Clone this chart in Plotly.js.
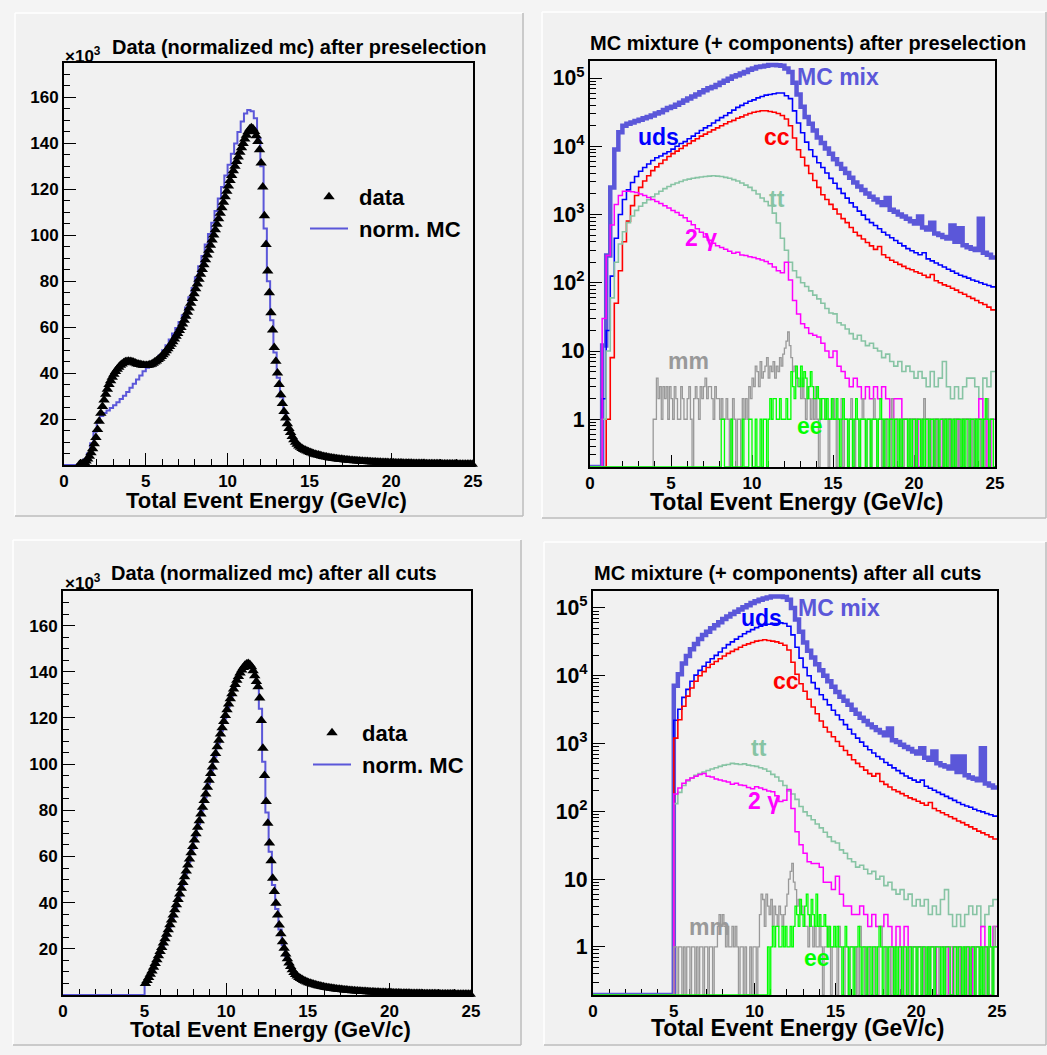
<!DOCTYPE html>
<html>
<head>
<meta charset="utf-8">
<script src="https://cdn.plot.ly/plotly-3.0.1.min.js"></script>
<style>
html,body{margin:0;padding:0;background:#f4f4f4;}
#chart{width:1047px;height:1055px;}
</style>
</head>
<body>
<div id="chart"></div>
<script>
// ---------------- tick labels ----------------
const xTickVals = [0, 5, 10, 15, 20, 25];
const xTickText = ['0', '5', '10', '15', '20', '25'];
const yLinTickVals = [20, 40, 60, 80, 100, 120, 140, 160];
const yLinTickText = ['20', '40', '60', '80', '100', '120', '140', '160'];

// ---------------- bin widths (GeV) ----------------
const dataBinWidth = 0.1;   // data points (triangles) and mm / ee histograms
const normBinWidth = 0.2;   // norm. MC histograms (linear panels)
const compBinWidth = 0.25;  // MC mix / uds / cc / tt / 2gamma (log panels)

// ============ Panel 1: data vs norm. MC after preselection (units of 10^3) ============
const dataPreK = [null,null,null,null,null,null,null,null,null,
0.2,0.4,0.7,1.1,1.7,2.6,3.8,5.3,7.1,9.3,12,
15.5,19,22.5,25.5,28.3,30.8,33,35,36.7,38.2,
39.5,40.7,41.7,42.6,43.4,44,44.5,44.9,45.1,45.2,
45.1,44.9,44.7,44.4,44.1,43.9,43.7,43.5,43.4,43.3,
43.3,43.4,43.6,43.9,44.3,44.8,45.3,45.9,46.5,47.2,
48,48.8,49.7,50.6,51.6,52.6,53.7,54.8,56,57.2,
58.5,59.9,61.4,63,64.7,66.5,68.4,70.4,72.5,74.6,
76.7,78.8,80.9,83,85.1,87.2,89.3,91.4,93.5,95.7,
97.9,100.1,102.4,104.8,107.2,109.6,112,114.4,116.8,119.2,
121.5,123.8,126,128.1,130.1,132.1,134.1,136.1,138.1,140,
141.9,143.6,145.1,146.3,146.8,146.4,145.2,143.3,140.8,137.2,
131.5,121,108.5,96,84.5,75,66.3,58.8,51.2,45.2,
40,35,30.6,26.8,23.3,20.5,18,15.9,14.1,12.4,
11,9.9,9,8.3,7.7,7.2,6.8,6.4,6.05,5.75,
5.45,5.2,4.95,4.72,4.5,4.3,4.1,3.92,3.75,3.6,
3.45,3.31,3.18,3.06,2.95,2.84,2.74,2.64,2.55,2.46,
2.38,2.3,2.22,2.15,2.08,2.01,1.95,1.89,1.83,1.77,
1.72,1.67,1.62,1.57,1.52,1.48,1.44,1.4,1.36,1.32,
1.28,1.24,1.2,1.17,1.14,1.11,1.08,1.05,1.02,0.99,
0.96,0.94,0.91,0.89,0.87,0.85,0.83,0.81,0.79,0.77,
0.75,0.73,0.72,0.7,0.68,0.67,0.65,0.64,0.62,0.61,
0.6,0.58,0.57,0.56,0.55,0.53,0.52,0.51,0.5,0.49,
0.48,0.47,0.46,0.45,0.44,0.43,0.42,0.41,0.4,0.39,
0.38,0.37,0.37,0.36,0.35,0.34,0.33,0.33,0.32,0.31];

const normMcPreK = [0,0,0,0,0.3, 1,2.5,5,9.5,14.5,
18.5,21.3,22.6,23.7,24.8, 26,27.3,28.7,30.2,31.8,
33.6,35.4,37.2,39,40.8, 42.3,43.6,44.5,46.1,47.8,
49.9,52.1,54.6,57.2,59.6, 62.2,65.2,68.6,73,77,
81.7,86.5,91,96,100.6, 105.5,110.6,116,121,126,
130.7,135.5,140,145,149.5, 153,154.5,154,151,142,
130,103,80,63,49, 38,29.5,22.5,17.5,13.8,
11,9.1,7.9,7,6.3, 5.6,5.1,4.6,4.2,3.85,
3.5,3.25,3,2.8,2.6, 2.4,2.25,2.1,1.95,1.82,
1.7,1.6,1.5,1.42,1.34, 1.27,1.2,1.13,1.07,1.01,
0.96,0.91,0.87,0.83,0.79, 0.75,0.72,0.69,0.66,0.63,
0.6,0.58,0.56,0.54,0.52, 0.5,0.48,0.46,0.44,0.42,
0.4,0.39,0.37,0.36,0.35];

// ============ Panel 3: data vs norm. MC after all cuts (units of 10^3) ============
const dataCutK = [null,null,null,null,null,null,null,null,null,null,
null,null,null,null,null,null,null,null,null,null,
null,null,null,null,null,null,null,null,null,null,
null,null,null,null,null,null,null,null,null,null,
null,null,null,null,null,null,null,null,null,null,
5,6.3,7.6,9,10.4,12,13.6,15.3,17,18.8,
20.6,22.5,24.4,26.3,28.3,30.4,32.5,34.7,36.9,39.1,
41.4,43.8,46.2,48.7,51.2,53.7,56.3,58.9,61.6,64.3,
67.1,69.9,72.7,75.5,78.4,81.3,84.2,87.1,90,93,
95.9,98.8,101.7,104.6,107.5,110.3,113.1,115.8,118.5,121.1,
123.6,126,128.3,130.5,132.6,134.5,136.3,138,139.5,140.8,
141.9,142.8,143.4,143.6,143.2,142.2,140.5,138.3,135.8,133.5,
128.6,118.9,106.9,95.1,83.8,74.4,65.8,58.1,50.6,44.8,
39.7,34.7,30.3,26.5,23.1,20.3,17.8,15.7,13.9,12.3,
10.9,9.8,8.9,8.2,7.6,7.1,6.7,6.3,5.95,5.65,
5.35,5.1,4.86,4.63,4.42,4.22,4.03,3.86,3.7,3.55,
3.41,3.28,3.15,3.03,2.92,2.82,2.72,2.62,2.53,2.44,
2.36,2.28,2.2,2.13,2.06,2,1.94,1.88,1.82,1.76,
1.71,1.66,1.61,1.56,1.51,1.47,1.43,1.39,1.35,1.31,
1.27,1.23,1.19,1.16,1.13,1.1,1.07,1.04,1.01,0.98,
0.95,0.93,0.9,0.88,0.86,0.84,0.82,0.8,0.78,0.76,
0.74,0.72,0.71,0.69,0.67,0.66,0.64,0.63,0.61,0.6,
0.59,0.57,0.56,0.55,0.54,0.52,0.51,0.5,0.49,0.48,
0.47,0.46,0.45,0.44,0.43,0.42,0.41,0.4,0.39,0.38,
0.37,0.36,0.36,0.35,0.34,0.33,0.32,0.32,0.31,0.3];

const normMcCutK = [0,0,0,0,0, 0,0,0,0,0, 0,0,0,0,0, 0,0,0,0,0, 0,0,0,0,0,
5.5,8.2,11.2,14.4,17.9, 21.6,25.4,29.4,33.6,38,
42.6,47.5,52.5,57.6,63, 68.5,74.1,79.9,85.7,91.5,
97.4,103.2,108.9,114.5,119.8, 124.8,129.4,133.6,137.2,140.2,
142.6,143.8,143,140,135, 124,101,79,62,47.7,
37.2,28.4,21.7,16.8,13.1, 10.4,8.6,7.5,6.7,6,
5.4,4.95,4.5,4.1,3.8, 3.45,3.2,2.95,2.75,2.55,
2.37,2.21,2.06,1.92,1.8, 1.68,1.58,1.48,1.4,1.32,
1.25,1.18,1.12,1.06,1, 0.95,0.9,0.86,0.82,0.78,
0.74,0.71,0.68,0.65,0.62, 0.6,0.57,0.55,0.53,0.51,
0.49,0.47,0.45,0.44,0.42, 0.4,0.39,0.37,0.36,0.35];

// ============ Panel 2: MC mixture + components after preselection (events / 0.1 GeV) ============
const mixPre = [0,0,0,12,250,2500,9000,16000,20000,21400,
22400,23400,24500,25700,26900,28200,30200,31600,33900,36300,
38000,40700,43600,46800,50100,53700,57500,61700,66100,70800,
74100,79400,85100,91200,97700,105000,110000,117000,123000,132000,
138000,145000,148000,151000,155000,155000,154000,151000,138000,123000,
85000,57500,38000,26900,21400,17000,13500,11200,9300,7760,
6460,5500,4680,4070,3470,2950,2570,2290,2040,1820,
1660,1510,1380,1740,1175,1100,1000,933,870,795,
741,933,646,603,760,525,500,468,447,690,
398,630,355,331,316,302,870,275,257,234];

const udsPre = [0,0,0,2,20,125,450,1000,1660,2300,
2950,3600,4300,4900,5500,6200,6800,7200,7800,8300,
9100,10000,11000,11700,12900,14100,15500,17000,18600,20000,
21900,24000,26300,28200,30900,33900,37200,39800,42700,45700,
47900,51300,53700,56200,57500,58900,60300,60300,55000,50000,
33000,21900,15800,11500,8900,7100,5750,4900,4070,3390,
2880,2400,2040,1740,1480,1290,1120,980,850,760,
690,620,550,500,457,417,380,347,316,295,
275,257,275,224,209,195,182,170,158,148,
138,129,123,117,110,105,100,95,91,87];

const ccPre = [0,0,0,0,1,8,50,150,400,800,
1350,1900,2500,3100,3700,4400,5000,5600,6300,7100,
7800,8500,9300,10200,11000,12000,12900,14100,15100,16200,
17400,18600,20000,21400,22900,24000,25700,27000,28800,30200,
31600,32400,33100,33100,32400,31600,30200,28200,25100,20000,
13200,8900,6900,5200,4000,3150,2500,1950,1660,1410,
1200,1020,870,760,645,550,490,437,390,347,
309,340,257,234,214,200,186,174,162,155,
145,138,129,120,132,107,100,93,89,83,
78,72,68,63,59,55,51,48,44,40];

const ttPre = [0,0,0,1,10,60,200,370,560,760,
950,1150,1320,1480,1650,1820,2000,2190,2400,2570,
2750,2900,3050,3200,3300,3400,3470,3550,3600,3650,
3700,3650,3600,3500,3400,3250,3100,2900,2700,2500,
2250,2000,1750,1550,1350,1050,750,450,300,200,
150,120,100,88,76,66,58,50,42,36,
35,26,24,21,18,15,17,14,12,13,
11,10,8,9,7,6,7,5,6,5,
4,5,4,3,5,3,4,7,3,2,
3,2,3,4,4,3,2,4,3,5];

const ggPre = [0,0,0,30,250,700,1400,1900,2200,2200,
2150,2100,2000,1900,1780,1660,1550,1450,1350,1250,
1150,1070,980,900,800,710,620,550,470,420,
380,350,330,310,290,270,280,255,250,240,
235,225,215,205,190,170,150,140,200,110,
55,35,25,22,18,17,16,13,10,8,
10,6,5,4,3,4,3,2,3,2,
3,2,3,2,1,2,2,1,1,1,
1,0,1,1,0,1,0,1,1,0,
1,0,1,1,0,1,2,1,0,1];

const mmPre = [0,0,0,0,0,0,0,0,0,0, 0,0,0,0,0,0,0,0,0,0,
0,0,0,0,0,0,0,0,0,0, 0,0,0,0,0,0,0,0,0,
1,1,4,2,3,1,3,2,3,1,
3,2,1,3,2,1,1,3,2,1,
1,2,3,1,0,2,3,2,1,3,
2,3,4,2,3,3,2,1,3,2,
2,1,2,1,1,2,1,0,1,2,
1,0,1,1,0,2,1,2,1,3,
2,4,3,6,5,3,7,4,5,6,
8,4,6,5,7,4,6,5,8,6,
9,11,14,19,12,8,5,6,4,3,
3,2,4,2,1,3,2,1,2,1,
3,1,0,2,1,1,2,1,0,1,
1,2,1,0,1,1,2,0,1,1,
0,1,2,1,0,1,1,0,1,2,
1,0,1,1,0,1,2,1,0,1,
1,0,1,0,1,1,0,2,1,0,
1,1,0,1,0,1,1,0,1,1,
0,1,0,1,1,0,1,2,1,0,
1,0,1,1,0,1,0,1,1,0,
1,1,0,1,0,1,1,0,1,0,
1,0,1,1,0,1,0,1,1,0,
1,1,0,1,0,1,2,0,1,1,
0];

const eePre = [0,0,0,0,0,0,0,0,0,0, 0,0,0,0,0,0,0,0,0,0,
0,0,0,0,0,0,0,0,0,0, 0,0,0,0,0,0,0,0,0,0,
0,0,0,0,0,0,0,0,0,0, 0,0,0,0,0,0,0,0,0,0,
0,0,0,0,0,0,0,0,0,0, 0,0,0,0,0,0,0,0,0,0,
0,1,1,0,0,0,0,1,0,0,
0,0,0,0,1,0,0,0,1,1,
0,0,1,0,0,1,0,1,1,0,
1,2,1,2,2,1,1,2,1,1,
1,2,1,1,5,3,2,6,4,3,
6,3,5,4,2,3,5,3,2,2,
3,2,1,2,2,1,2,1,1,2,
1,1,2,1,0,1,2,1,1,0,
1,1,0,1,2,1,0,1,1,1,
0,1,1,0,1,1,1,0,1,2,
1,0,1,1,0,1,1,0,1,1,
0,1,0,1,1,1,0,1,0,1,
1,0,1,1,0,1,0,1,1,0,
1,1,0,1,1,0,1,1,0,1,
0,1,1,0,1,0,1,1,1,0,
1,0,1,1,0,1,1,0,1,0,
1,1,0,1,2,1,0,1,1,0];

// ============ Panel 4: MC mixture + components after all cuts (events / 0.1 GeV) ============
const mixCut = [0,0,0,0,0,0,0,0,0,0, 0,0,0,0,0,0,0,0,0,0,
7100,10500,15100,19500,24500,29500,34700,39800,44700,50100,
55500,61500,68500,75000,81500,88000,95000,102000,110000,118000,
126000,132000,138000,143000,147000,148000,148000,145000,132000,100000,
67600,44700,30900,23400,18600,14800,12000,10000,8300,6900,
5750,4900,4270,3720,3160,2750,2400,2140,1900,1740,
1580,1450,1320,1660,1120,1050,955,890,830,760,
710,850,617,575,760,513,479,457,427,646,
380,646,339,316,302,288,850,257,240,224];

const udsCut = [0,0,0,0,0,0,0,0,0,0, 0,0,0,0,0,0,0,0,0,0,
2200,3200,4800,6300,8300,10200,12000,13800,15800,17800,
20000,22400,25700,28800,31600,34700,38000,41700,44700,47900,
51300,53700,56200,57500,58900,58900,60300,58900,53700,40000,
26300,18200,13200,10000,7900,6450,5250,4470,3720,3090,
2630,2240,1900,1620,1380,1200,1050,910,810,725,
645,590,525,480,437,398,363,331,309,288,
269,288,234,219,204,190,178,166,155,145,
135,126,120,115,107,102,98,93,89,85];

const ccCut = [0,0,0,0,0,0,0,0,0,0, 0,0,0,0,0,0,0,0,0,0,
1200,2240,3550,5000,6600,8300,10000,11500,13200,14800,
16200,17800,19500,21400,22900,24500,26300,28200,29500,30900,
32400,33100,33900,33100,32400,31600,30200,28200,24000,15800,
10500,7600,5900,4500,3450,2750,2150,1740,1480,1260,
1070,910,790,680,575,510,455,405,360,330,
360,275,250,228,208,195,182,170,158,150,
141,132,123,135,110,102,95,89,83,78,
72,68,63,59,55,51,48,45,42,39];

const ttCut = [0,0,0,0,0,0,0,0,0,0, 0,0,0,0,0,0,0,0,0,0,
130,190,240,280,310,340,360,380,400,420,
440,460,480,490,510,500,490,500,480,470,
460,440,420,390,350,320,280,240,200,180,
150,118,98,86,75,65,57,49,42,36,
34,27,24,20,18,15,16,14,12,13,
10,11,8,9,7,6,7,5,6,4,
5,4,5,3,4,3,5,7,3,2,
3,2,3,4,3,4,2,3,4,5];

const ggCut = [0,0,0,0,0,0,0,0,0,0, 0,0,0,0,0,0,0,0,0,0,
180,220,260,290,310,330,350,360,330,320,
300,290,280,270,250,260,245,240,225,215,
230,220,210,200,195,170,140,145,210,110,
50,32,24,18,17,17,15,9,9,7,
11,6,4,4,3,3,4,3,2,3,
2,2,3,2,1,2,1,2,1,1,
1,1,0,1,1,0,1,1,0,1,
1,0,1,0,1,1,2,1,0,2];

const mmCut = [0,0,0,0,0,0,0,0,0,0, 0,0,0,0,0,0,0,0,0,0,
0,0,0,0,0,0,0,0,0,0, 0,0,0,0,0,0,0,0,0,0,
0,0,0,0,0,0,0,0,0,0,
1,1,0,1,1,0,1,0,1,1,
0,1,1,0,1,0,1,1,0,1,
1,0,1,1,0,1,1,2,3,2,
3,2,1,2,1,1,2,1,2,1,
0,1,1,0,1,0,0,1,0,1,
1,0,1,3,6,5,2,6,4,3,
5,2,4,3,2,4,3,2,3,4,
6,10,13,17,9,7,4,5,3,4,
3,2,2,1,3,2,1,2,1,1,
2,1,0,1,1,2,1,0,1,1,
1,0,2,1,1,0,1,1,0,1,
1,1,0,1,0,2,1,1,0,1,
0,1,1,0,1,1,0,1,2,1,
1,0,1,1,0,1,0,1,1,0,
1,1,0,1,1,0,1,0,1,1,
0,1,1,0,1,0,1,1,0,1,
1,0,1,1,0,1,1,0,1,0,
0,1,1,0,1,1,0,1,0,1,
1,0,1,0,1,1,0,1,1,0,
1,1,0,1,0,1,1,0,2,1];

const eeCut = [0,0,0,0,0,0,0,0,0,0, 0,0,0,0,0,0,0,0,0,0,
0,0,0,0,0,0,0,0,0,0, 0,0,0,0,0,0,0,0,0,0,
0,0,0,0,0,0,0,0,0,0, 0,0,0,0,0,0,0,0,0,0,
0,0,0,0,0,0,0,0,0,0, 0,0,0,0,0,0,0,0,0,0,
0,0,0,0,0,0,0,0,0,0, 0,0,0,0,0,0,0,0,0,0,
0,0,0,0,0,0,0,0,
1,0,1,2,1,2,2,1,1,2,1,2,
1,1,2,1,2,4,3,2,5,3,
2,4,6,3,2,5,3,2,6,2,
3,2,2,3,2,1,2,1,1,2,
1,2,1,1,0,1,2,1,0,1,
1,0,1,1,2,1,0,1,1,0,
1,1,0,1,1,0,1,2,1,0,
1,1,0,1,1,1,0,1,0,1,
1,0,1,1,0,1,1,0,1,1,
0,1,1,0,1,1,0,1,0,1,
1,0,1,1,1,0,1,0,1,1,
1,0,0,1,1,0,1,1,0,1,
0,1,1,0,1,1,0,1,1,0,
1,0,1,1,0,2,1,0,1,1];

// ---------------- sanity checks ----------------
const lens = {dataPreK:[dataPreK,250], normMcPreK:[normMcPreK,125], dataCutK:[dataCutK,250], normMcCutK:[normMcCutK,125],
  mixPre:[mixPre,100], udsPre:[udsPre,100], ccPre:[ccPre,100], ttPre:[ttPre,100], ggPre:[ggPre,100], mmPre:[mmPre,250], eePre:[eePre,250],
  mixCut:[mixCut,100], udsCut:[udsCut,100], ccCut:[ccCut,100], ttCut:[ttCut,100], ggCut:[ggCut,100], mmCut:[mmCut,250], eeCut:[eeCut,250]};
for (const k in lens) { if (lens[k][0].length !== lens[k][1]) throw new Error(k + ' has ' + lens[k][0].length + ' values, expected ' + lens[k][1]); }

// ---------------- styling ----------------
const FONT = 'Liberation Sans, Arial, Helvetica, sans-serif';
const C_MIX = '#5b57d9', C_UDS = '#0000ff', C_CC = '#ff0000', C_TT = '#87c4a4', C_GG = '#ff00ff', C_MM = '#999999', C_EE = '#00ff00';
const LOG_RANGE_PRE = [-0.7, 5.25];
const LOG_RANGE_CUT = [-0.71, 5.25];
const NB = '\u00a0';

function binCenters(n, w) { const a = []; for (let i = 0; i < n; i++) a.push(+((i + 0.5) * w).toFixed(4)); return a; }
function histTrace(vals, w, color, width, xa, ya, floorVal) {
  const x = [], y = [];
  for (let i = 0; i < vals.length; i++) {
    x.push(+(i * w).toFixed(4));
    const v = vals[i];
    y.push(v > 0 ? v : floorVal);
  }
  x.push(+(vals.length * w).toFixed(4));
  y.push(y[y.length - 1]);
  return {type: 'scatter', mode: 'lines', x, y, xaxis: xa, yaxis: ya,
    line: {shape: 'hv', color, width}, hoverinfo: 'skip', showlegend: false};
}

const traces = [];
// Panel 1
traces.push(Object.assign(histTrace(normMcPreK, normBinWidth, C_MIX, 2, 'x', 'y', 0),
  {name: NB + 'norm. MC', showlegend: true, legend: 'legend', legendrank: 2, legendgroup: 'mc'}));
traces.push({type: 'scatter', mode: 'markers', name: NB + 'data', x: binCenters(250, dataBinWidth), y: dataPreK,
  xaxis: 'x', yaxis: 'y', marker: {symbol: 'triangle-up', size: 10, color: '#000'}, cliponaxis: false,
  showlegend: true, legend: 'legend', legendrank: 1, legendgroup: 'data', hoverinfo: 'skip'});
// Panel 3
traces.push(Object.assign(histTrace(normMcCutK, normBinWidth, C_MIX, 2, 'x3', 'y3', 0),
  {name: NB + 'norm. MC', showlegend: true, legend: 'legend2', legendrank: 2, legendgroup: 'mc2'}));
traces.push({type: 'scatter', mode: 'markers', name: NB + 'data', x: binCenters(250, dataBinWidth), y: dataCutK,
  xaxis: 'x3', yaxis: 'y3', marker: {symbol: 'triangle-up', size: 10, color: '#000'}, cliponaxis: false,
  showlegend: true, legend: 'legend2', legendrank: 1, legendgroup: 'data2', hoverinfo: 'skip'});
// Panel 2
const fPre = Math.pow(10, LOG_RANGE_PRE[0]);
traces.push(histTrace(mixPre, compBinWidth, C_MIX, 4.5, 'x2', 'y2', fPre));
traces.push(histTrace(udsPre, compBinWidth, C_UDS, 1.6, 'x2', 'y2', fPre));
traces.push(histTrace(ccPre, compBinWidth, C_CC, 1.6, 'x2', 'y2', fPre));
traces.push(histTrace(ttPre, compBinWidth, C_TT, 1.6, 'x2', 'y2', fPre));
traces.push(histTrace(ggPre, compBinWidth, C_GG, 1.5, 'x2', 'y2', fPre));
traces.push(histTrace(mmPre, dataBinWidth, C_MM, 1.3, 'x2', 'y2', fPre));
traces.push(histTrace(eePre, dataBinWidth, C_EE, 1.3, 'x2', 'y2', fPre));
// Panel 4
const fCut = Math.pow(10, LOG_RANGE_CUT[0]);
traces.push(histTrace(mixCut, compBinWidth, C_MIX, 4.5, 'x4', 'y4', fCut));
traces.push(histTrace(udsCut, compBinWidth, C_UDS, 1.6, 'x4', 'y4', fCut));
traces.push(histTrace(ccCut, compBinWidth, C_CC, 1.6, 'x4', 'y4', fCut));
traces.push(histTrace(ttCut, compBinWidth, C_TT, 1.6, 'x4', 'y4', fCut));
traces.push(histTrace(ggCut, compBinWidth, C_GG, 1.5, 'x4', 'y4', fCut));
traces.push(histTrace(mmCut, dataBinWidth, C_MM, 1.3, 'x4', 'y4', fCut));
traces.push(histTrace(eeCut, dataBinWidth, C_EE, 1.3, 'x4', 'y4', fCut));

// ---------------- layout helpers (pixel -> paper) ----------------
const W = 1047, H = 1055;
const PX = v => v / W;
const PY = v => 1 - v / H;
const tickFont = {family: FONT, size: 17, color: '#000', weight: 700};

function xAxis(x0, x1, anchor) {
  return {domain: [PX(x0), PX(x1)], anchor, range: [0, 25], tickmode: 'array', tickvals: xTickVals, ticktext: xTickText,
    ticks: 'inside', ticklen: 12, tickwidth: 1, tickcolor: '#000',
    minor: {dtick: 1, tick0: 0, ticks: 'inside', ticklen: 6, tickwidth: 1, tickcolor: '#000', showgrid: false},
    showline: true, linecolor: '#000', linewidth: 2, mirror: true, showgrid: false, zeroline: false,
    tickfont: tickFont, layer: 'below traces', fixedrange: true};
}
function yLinAxis(y0, y1, anchor) {
  return {domain: [PY(y1), PY(y0)], anchor, range: [0, 175], tickmode: 'array', tickvals: yLinTickVals, ticktext: yLinTickText,
    ticks: 'inside', ticklen: 12, tickwidth: 1, tickcolor: '#000',
    minor: {dtick: 5, tick0: 0, ticks: 'inside', ticklen: 6, tickwidth: 1, tickcolor: '#000', showgrid: false},
    showline: true, linecolor: '#000', linewidth: 2, mirror: true, showgrid: false, zeroline: false,
    tickfont: tickFont, layer: 'below traces', fixedrange: true};
}
function yLogAxis(y0, y1, anchor, range) {
  return {domain: [PY(y1), PY(y0)], anchor, type: 'log', range, dtick: 1, tick0: 0, exponentformat: 'power',
    ticks: 'inside', ticklen: 12, tickwidth: 1, tickcolor: '#000',
    minor: {dtick: 'D1', ticks: 'inside', ticklen: 6, tickwidth: 1, tickcolor: '#000', showgrid: false},
    showline: true, linecolor: '#000', linewidth: 2, mirror: true, showgrid: false, zeroline: false,
    tickfont: tickFont, layer: 'below traces', fixedrange: true};
}

function txt(text, x, y, size, opts) {
  return Object.assign({text, xref: 'paper', yref: 'paper', x: PX(x), y: PY(y), xanchor: 'left', yanchor: 'middle',
    showarrow: false, font: {family: FONT, size, color: '#000', weight: 700}}, opts || {});
}
function label(text, x, y, color) { return txt(text, x, y, 23, {font: {family: FONT, size: 23, color, weight: 700}}); }

const annotations = [
  // panel 1
  txt('Data (normalized mc) after preselection', 110, 47, 20),
  txt('\u00d710<sup>3</sup>', 63, 55, 17),
  txt('Total Event Energy (GeV/c)', 266, 500, 22, {xanchor: 'center'}),
  // panel 2
  txt('MC mixture (+ components) after preselection', 808, 43, 20, {xanchor: 'center'}),
  txt('Total Event Energy (GeV/c)', 797, 502, 23, {xanchor: 'center'}),
  label('MC mix', 795, 77, C_MIX), label('uds', 636, 137, C_UDS), label('cc', 762, 137, C_CC),
  label('tt', 767, 199, C_TT), label('2 \u03b3', 683, 238, C_GG), label('mm', 666, 361, C_MM), label('ee', 795, 426, C_EE),
  // panel 3
  txt('Data (normalized mc) after all cuts', 109, 573, 20),
  txt('\u00d710<sup>3</sup>', 63, 582, 17),
  txt('Total Event Energy (GeV/c)', 270, 1029, 22, {xanchor: 'center'}),
  // panel 4
  txt('MC mixture (+ components) after all cuts', 787, 573, 20, {xanchor: 'center'}),
  txt('Total Event Energy (GeV/c)', 798, 1028, 23, {xanchor: 'center'}),
  label('MC mix', 796, 608, C_MIX), label('uds', 739, 618, C_UDS), label('cc', 771, 681, C_CC),
  label('tt', 749, 748, C_TT), label('2 \u03b3', 746, 801, C_GG), label('mm', 687, 927, C_MM), label('ee', 802, 958, C_EE)
];

// pad frames (ROOT canvas look)
function pad(x0, y0, x1, y1) {
  const r = {type: 'rect', xref: 'paper', yref: 'paper', x0: PX(x0), x1: PX(x1), y0: PY(y1), y1: PY(y0),
    fillcolor: '#f1f1f1', line: {width: 0}, layer: 'below'};
  const ln = (a, b, c, d, col) => ({type: 'line', xref: 'paper', yref: 'paper', x0: PX(a), y0: PY(b), x1: PX(c), y1: PY(d),
    line: {color: col, width: 1.5}, layer: 'below'});
  return [r, ln(x0, y0, x1, y0, '#ffffff'), ln(x0, y0, x0, y1, '#ffffff'), ln(x0, y1, x1, y1, '#bdbdbd'), ln(x1, y0, x1, y1, '#bdbdbd')];
}
const shapes = [].concat(pad(15, 13, 523, 516), pad(542, 12, 1046, 518), pad(13, 540, 521, 1045), pad(544, 542, 1046, 1045));

const legendBase = {xanchor: 'left', yanchor: 'top', bgcolor: 'rgba(0,0,0,0)', borderwidth: 0,
  font: {family: FONT, size: 22, color: '#000', weight: 700}, itemwidth: 38, tracegroupgap: 6, traceorder: 'normal'};

const layout = {
  width: W, height: H, margin: {l: 0, r: 0, t: 0, b: 0},
  paper_bgcolor: '#f4f4f4', plot_bgcolor: 'rgba(0,0,0,0)',
  showlegend: true, hovermode: false,
  xaxis: xAxis(64, 473, 'y'), yaxis: yLinAxis(63, 465, 'x'),
  xaxis2: xAxis(590, 995, 'y2'), yaxis2: yLogAxis(61, 467, 'x2', LOG_RANGE_PRE),
  xaxis3: xAxis(63, 471, 'y3'), yaxis3: yLinAxis(591, 995, 'x3'),
  xaxis4: xAxis(593, 997, 'y4'), yaxis4: yLogAxis(591, 995, 'x4', LOG_RANGE_CUT),
  legend: Object.assign({x: PX(305), y: PY(176)}, legendBase),
  legend2: Object.assign({x: PX(308), y: PY(712)}, legendBase),
  annotations, shapes
};

Plotly.newPlot('chart', traces, layout, {staticPlot: true, displayModeBar: false});
</script>
</body>
</html>
